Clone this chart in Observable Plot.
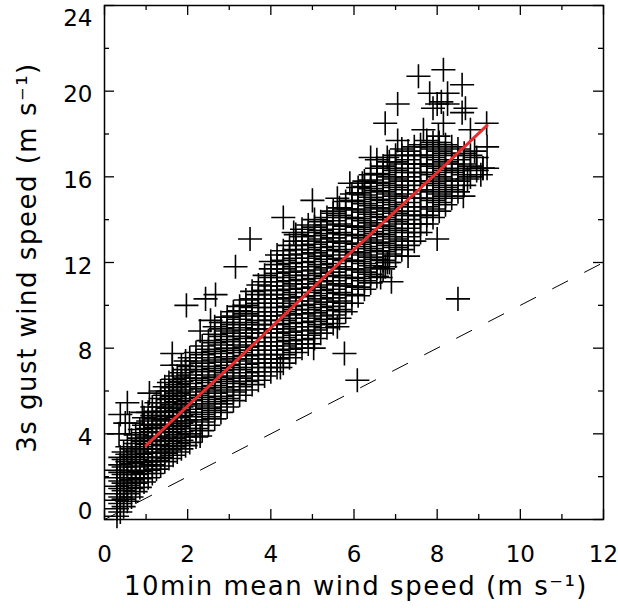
<!DOCTYPE html>
<html><head><meta charset="utf-8">
<script src="https://cdn.jsdelivr.net/npm/d3@7"></script>
<script src="https://cdn.jsdelivr.net/npm/@observablehq/plot@0.6"></script>
<style>body{margin:0;background:#fff}</style>
</head><body><div id="chart"></div>
<script>
const xTitle = "10min mean wind speed (m s⁻¹)";
const yTitle = "3s gust wind speed (m s⁻¹)";
const xMajor = [0, 2, 4, 6, 8, 10, 12];
const xMinor = [1, 3, 5, 7, 9, 11];
const yMajor = [0, 4, 8, 12, 16, 20, 24];
const yMinor = [2, 6, 10, 14, 18, 22];

// [10-min mean wind, [3-s gusts observed at that mean]]
const lowBand = [
  [0.30, [0.15, 0.5, 0.9, 1.2, 1.55, 1.95, 2.3]],
  [0.38, [0.35, 0.75, 1.05, 1.45, 1.8, 2.2, 2.55, 2.9]],
  [0.46, [0.6, 0.95, 1.35, 1.7, 2.1, 2.45, 2.8, 3.15]],
  [0.55, [0.85, 1.2, 1.6, 1.95, 2.3, 2.7, 3.05, 3.4]],
  [0.65, [1.05, 1.45, 1.85, 2.2, 2.6, 2.95, 3.3, 3.7]],
  [0.75, [1.3, 1.7, 2.1, 2.45, 2.8, 3.2, 3.55, 3.95]],
  [0.85, [1.5, 1.9, 2.25, 2.65, 3.05, 3.4, 3.8, 4.2]],
  [0.95, [1.75, 2.15, 2.5, 2.9, 3.3, 3.65, 4.05, 4.4, 4.75]],
  [1.05, [1.95, 2.3, 2.7, 3.1, 3.5, 3.85, 4.25, 4.6, 5.0]],
  [1.15, [2.15, 2.55, 2.9, 3.3, 3.7, 4.1, 4.45, 4.85, 5.25]],
  [1.25, [2.35, 2.75, 3.15, 3.5, 3.9, 4.3, 4.7, 5.05, 5.45]],
  [1.35, [2.5, 2.9, 3.3, 3.7, 4.1, 4.45, 4.85, 5.25, 5.65, 6.0]],
  [1.45, [2.7, 3.1, 3.45, 3.85, 4.25, 4.65, 5.05, 5.45, 5.8, 6.2]],
  [1.55, [2.85, 3.25, 3.65, 4.05, 4.4, 4.8, 5.2, 5.6, 6.0, 6.4]],
  [1.65, [3.0, 3.4, 3.8, 4.2, 4.6, 5.0, 5.35, 5.75, 6.15, 6.55]],
  [1.75, [3.15, 3.55, 3.95, 4.35, 4.75, 5.1, 5.5, 5.9, 6.3, 6.7]],
  [1.85, [3.3, 3.7, 4.1, 4.5, 4.85, 5.25, 5.65, 6.05, 6.45, 6.85, 7.2]],
  [1.95, [3.45, 3.85, 4.25, 4.6, 5.0, 5.4, 5.8, 6.2, 6.6, 7.0, 7.4]]
];
const midBand = [
  [2.05, [3.6, 4.0, 4.4, 4.8, 5.15, 5.55, 5.95, 6.35, 6.75, 7.15, 7.55]],
  [2.2, [3.85, 4.25, 4.65, 5.0, 5.4, 5.8, 6.2, 6.6, 7.0, 7.4, 7.8]],
  [2.35, [4.15, 4.55, 4.9, 5.3, 5.7, 6.1, 6.5, 6.9, 7.3, 7.7, 8.1]],
  [2.5, [4.4, 4.8, 5.2, 5.6, 6.0, 6.4, 6.75, 7.15, 7.55, 7.95, 8.35]],
  [2.65, [4.7, 5.1, 5.5, 5.9, 6.25, 6.65, 7.05, 7.45, 7.85, 8.25, 8.65, 9.0]],
  [2.8, [5.0, 5.4, 5.75, 6.15, 6.55, 6.95, 7.35, 7.75, 8.15, 8.55, 8.9, 9.2]],
  [2.95, [5.25, 5.65, 6.05, 6.45, 6.85, 7.2, 7.6, 8.0, 8.4, 8.8, 9.2, 9.45]],
  [3.1, [5.55, 5.95, 6.35, 6.7, 7.1, 7.5, 7.9, 8.3, 8.7, 9.1, 9.5, 9.7]],
  [3.25, [5.8, 6.2, 6.6, 7.0, 7.4, 7.8, 8.15, 8.55, 8.95, 9.35, 9.75, 9.95]],
  [3.4, [6.05, 6.45, 6.85, 7.25, 7.65, 8.05, 8.45, 8.85, 9.2, 9.6, 10.0, 10.25]],
  [3.55, [6.3, 6.7, 7.1, 7.5, 7.9, 8.3, 8.7, 9.1, 9.5, 9.9, 10.3, 10.65]],
  [3.7, [6.5, 6.9, 7.3, 7.7, 8.1, 8.5, 8.9, 9.3, 9.7, 10.1, 10.5, 10.95]],
  [3.85, [6.7, 7.1, 7.5, 7.9, 8.3, 8.7, 9.1, 9.5, 9.9, 10.3, 10.7, 11.1, 11.4]],
  [4.0, [6.9, 7.3, 7.7, 8.1, 8.5, 8.9, 9.3, 9.7, 10.1, 10.5, 10.9, 11.3, 11.7, 12.05]],
  [4.15, [7.1, 7.5, 7.9, 8.3, 8.7, 9.1, 9.5, 9.9, 10.3, 10.7, 11.1, 11.5, 11.9, 12.35]],
  [4.3, [7.3, 7.7, 8.1, 8.5, 8.9, 9.3, 9.7, 10.1, 10.5, 10.9, 11.3, 11.7, 12.1, 12.55]],
  [4.45, [7.55, 7.95, 8.35, 8.75, 9.15, 9.55, 9.95, 10.35, 10.75, 11.15, 11.55, 11.95, 12.35, 12.8]],
  [4.6, [7.8, 8.2, 8.6, 9.0, 9.4, 9.8, 10.2, 10.6, 11.0, 11.4, 11.8, 12.2, 12.6, 13.0, 13.3]],
  [4.75, [8.0, 8.4, 8.8, 9.2, 9.6, 10.0, 10.4, 10.8, 11.2, 11.6, 12.0, 12.4, 12.8, 13.2, 13.55]],
  [4.9, [8.2, 8.6, 9.0, 9.4, 9.8, 10.2, 10.6, 11.0, 11.4, 11.8, 12.2, 12.6, 13.0, 13.4, 13.75]]
];
const highBand = [
  [5.05, [8.45, 8.85, 9.25, 9.65, 10.05, 10.45, 10.85, 11.25, 11.65, 12.05, 12.45, 12.85, 13.25, 13.65, 14.0]],
  [5.2, [8.7, 9.1, 9.5, 9.9, 10.3, 10.7, 11.1, 11.5, 11.9, 12.3, 12.7, 13.1, 13.5, 13.9]],
  [5.35, [8.95, 9.35, 9.75, 10.15, 10.55, 10.95, 11.35, 11.75, 12.15, 12.55, 12.95, 13.35, 13.75, 14.1]],
  [5.5, [9.15, 9.55, 9.95, 10.35, 10.75, 11.15, 11.55, 11.95, 12.35, 12.75, 13.15, 13.55, 13.95, 14.3]],
  [5.65, [9.4, 9.8, 10.2, 10.6, 11.0, 11.4, 11.8, 12.2, 12.6, 13.0, 13.4, 13.8, 14.2, 14.55]],
  [5.8, [9.7, 10.1, 10.5, 10.9, 11.3, 11.7, 12.1, 12.5, 12.9, 13.3, 13.7, 14.1, 14.5, 14.85]],
  [5.95, [10.1, 10.5, 10.9, 11.3, 11.7, 12.1, 12.5, 12.9, 13.3, 13.7, 14.1, 14.5, 14.9, 15.2]],
  [6.1, [10.45, 10.85, 11.25, 11.65, 12.05, 12.45, 12.85, 13.25, 13.65, 14.05, 14.45, 14.85, 15.25, 15.5]],
  [6.25, [10.75, 11.15, 11.55, 11.95, 12.35, 12.75, 13.15, 13.55, 13.95, 14.35, 14.75, 15.15, 15.55, 15.8]],
  [6.4, [11.05, 11.45, 11.85, 12.25, 12.65, 13.05, 13.45, 13.85, 14.25, 14.65, 15.05, 15.45, 15.85, 16.1]],
  [6.55, [11.35, 11.75, 12.15, 12.55, 12.95, 13.35, 13.75, 14.15, 14.55, 14.95, 15.35, 15.75, 16.15, 16.4]],
  [6.7, [11.7, 12.1, 12.5, 12.9, 13.3, 13.7, 14.1, 14.5, 14.9, 15.3, 15.7, 16.1, 16.5]],
  [6.85, [12.0, 12.4, 12.8, 13.2, 13.6, 14.0, 14.4, 14.8, 15.2, 15.6, 16.0, 16.4, 16.7]],
  [7.0, [12.3, 12.7, 13.1, 13.5, 13.9, 14.3, 14.7, 15.1, 15.5, 15.9, 16.3, 16.7, 17.0]],
  [7.15, [12.6, 13.0, 13.4, 13.8, 14.2, 14.6, 15.0, 15.4, 15.8, 16.2, 16.6, 17.0, 17.3]],
  [7.3, [12.8, 13.2, 13.6, 14.0, 14.4, 14.8, 15.2, 15.6, 16.0, 16.4, 16.8, 17.2]],
  [7.45, [13.0, 13.4, 13.8, 14.2, 14.6, 15.0, 15.4, 15.8, 16.2, 16.6, 17.0, 17.4]],
  [7.6, [13.4, 13.8, 14.2, 14.6, 15.0, 15.4, 15.8, 16.2, 16.6, 17.0, 17.5]],
  [7.75, [13.8, 14.2, 14.6, 15.0, 15.4, 15.8, 16.2, 16.6, 17.0, 17.4, 17.7]],
  [7.9, [14.1, 14.5, 14.9, 15.3, 15.7, 16.1, 16.5, 16.9, 17.3, 17.6]],
  [8.05, [14.4, 14.8, 15.2, 15.6, 16.0, 16.4, 16.8, 17.2, 17.6]],
  [8.2, [14.7, 15.1, 15.5, 15.9, 16.3, 16.7, 17.1, 17.5]],
  [8.35, [15.0, 15.4, 15.8, 16.2, 16.6, 17.0, 17.4]],
  [8.5, [15.3, 15.8, 16.3, 16.8, 17.3]],
  [8.65, [15.6, 16.1, 16.6, 17.1]],
  [8.8, [16.0, 16.5, 17.0]],
  [8.95, [16.3, 16.9]],
  [9.1, [16.4]]
];
// isolated observations [mean, gust]
const strays = [
  [0.35, 4.0], [0.38, 4.9], [0.5, 4.5], [0.6, 4.5], [0.55, 5.45], [0.91, 5.0], [1.08, 5.9],
  [1.63, 7.2], [1.63, 7.75], [1.97, 10.0], [2.3, 8.8], [2.43, 10.3], [2.67, 10.5], [2.55, 9.3],
  [2.3, 3.9], [3.15, 11.8], [3.5, 13.1], [4.3, 14.1], [4.55, 13.4], [5.0, 14.9], [5.5, 14.4],
  [5.6, 15.0], [5.9, 15.7], [6.2, 15.7], [6.4, 16.9], [6.55, 16.8], [6.8, 16.9], [6.75, 18.5],
  [7.05, 19.4], [7.05, 17.7], [7.55, 20.7], [8.15, 21.0], [7.82, 19.9], [8.25, 19.9], [8.6, 20.3],
  [8.0, 19.4], [8.1, 19.5], [8.25, 19.4], [7.9, 19.2], [8.68, 19.2], [8.6, 19.0], [7.67, 18.2],
  [8.15, 18.5], [8.8, 18.2], [9.19, 18.5], [8.03, 17.9], [9.2, 17.4], [8.9, 17.2], [8.63, 16.4],
  [9.1, 16.4], [9.2, 16.4], [9.05, 16.1], [8.73, 15.9], [8.63, 15.1], [8.0, 13.1], [7.3, 12.3],
  [6.8, 12.0], [6.75, 11.8], [6.9, 11.1], [6.64, 11.3], [8.5, 10.3], [5.77, 7.75], [6.08, 6.5],
  [5.6, 9.0], [5.03, 8.0], [4.23, 7.1]
];
const fitMean = [1.0, 2.0, 3.0, 4.0, 5.0, 6.0, 7.0, 8.0, 9.2];
const fitGust = [3.45, 5.3, 7.1, 8.95, 10.8, 12.6, 14.4, 16.2, 18.4];
const oneToOne = [0, 12];

const points = [...lowBand, ...midBand, ...highBand]
  .flatMap(([m, gs]) => gs.map(g => ({mean: m, gust: g})))
  .concat(strays.map(([m, g]) => ({mean: m, gust: g})));
const fit = fitMean.map((m, i) => ({mean: m, gust: fitGust[i]}));

const W = 618, H = 608, ML = 104, MR = 15, MT = 5, MB = 89;
const FW = W - ML - MR, FH = H - MT - MB;
const tickFont = 23, titleFont = 26;

const chart = Plot.plot({
  width: W, height: H,
  marginLeft: ML, marginRight: MR, marginTop: MT, marginBottom: MB,
  style: {fontFamily: "'DejaVu Sans', sans-serif", background: "#fff", color: "#000"},
  x: {domain: [0, 12], axis: null},
  y: {domain: [0, 24], axis: null},
  marks: [
    Plot.dot(points, {x: "mean", y: "gust", symbol: "plus", r: 7.8, stroke: "black", fill: "none", strokeWidth: 1.6}),
    Plot.line(oneToOne, {x: d => d, y: d => d, stroke: "black", strokeWidth: 1, strokeDasharray: "17,19"}),
    Plot.line(fit, {x: "mean", y: "gust", stroke: "#ee2a2a", strokeWidth: 3, curve: "monotone-x"}),
    Plot.frame({stroke: "black", strokeWidth: 1.5}),
    Plot.tickX(xMajor, {x: d => d, insetTop: FH - 10, stroke: "black", strokeWidth: 1.3}),
    Plot.tickX(xMinor, {x: d => d, insetTop: FH - 5, stroke: "black", strokeWidth: 1.3}),
    Plot.tickX(xMajor, {x: d => d, insetBottom: FH - 10, stroke: "black", strokeWidth: 1.3}),
    Plot.tickX(xMinor, {x: d => d, insetBottom: FH - 5, stroke: "black", strokeWidth: 1.3}),
    Plot.tickY(yMajor, {y: d => d, insetRight: FW - 10, stroke: "black", strokeWidth: 1.3}),
    Plot.tickY(yMinor, {y: d => d, insetRight: FW - 5, stroke: "black", strokeWidth: 1.3}),
    Plot.tickY(yMajor, {y: d => d, insetLeft: FW - 10, stroke: "black", strokeWidth: 1.3}),
    Plot.tickY(yMinor, {y: d => d, insetLeft: FW - 5, stroke: "black", strokeWidth: 1.3}),
    Plot.text(xMajor, {x: d => d, y: 0, text: d => String(d), dy: 42, lineAnchor: "bottom", fontSize: tickFont, fill: "black"}),
    Plot.text(yMajor.filter(d => d > 0 && d < 24), {x: 0, y: d => d, text: d => String(d), dx: -12, dy: 11, textAnchor: "end", lineAnchor: "bottom", fontSize: tickFont, fill: "black"}),
    Plot.text(yMajor.filter(d => d === 24), {x: 0, y: d => d, text: d => String(d), dx: -12, dy: 20, textAnchor: "end", lineAnchor: "bottom", fontSize: tickFont, fill: "black"}),
    Plot.text(yMajor.filter(d => d === 0), {x: 0, y: d => d, text: d => String(d), dx: -12, dy: -1, textAnchor: "end", lineAnchor: "bottom", fontSize: tickFont, fill: "black"}),
    Plot.text([xTitle], {frameAnchor: "bottom", text: d => d, dy: 75, dx: 2, textAnchor: "middle", lineAnchor: "bottom", fontSize: titleFont, fill: "black"}),
    Plot.text([yTitle], {frameAnchor: "left", text: d => d, rotate: -90, dx: -69, dy: -5, textAnchor: "middle", lineAnchor: "bottom", fontSize: titleFont, fill: "black"})
  ]
});
chart.querySelectorAll("text").forEach(t => {
  if (t.textContent === xTitle || t.textContent === yTitle) t.setAttribute("letter-spacing", "1.5");
});
document.getElementById("chart").appendChild(chart);
</script>
</body></html>
